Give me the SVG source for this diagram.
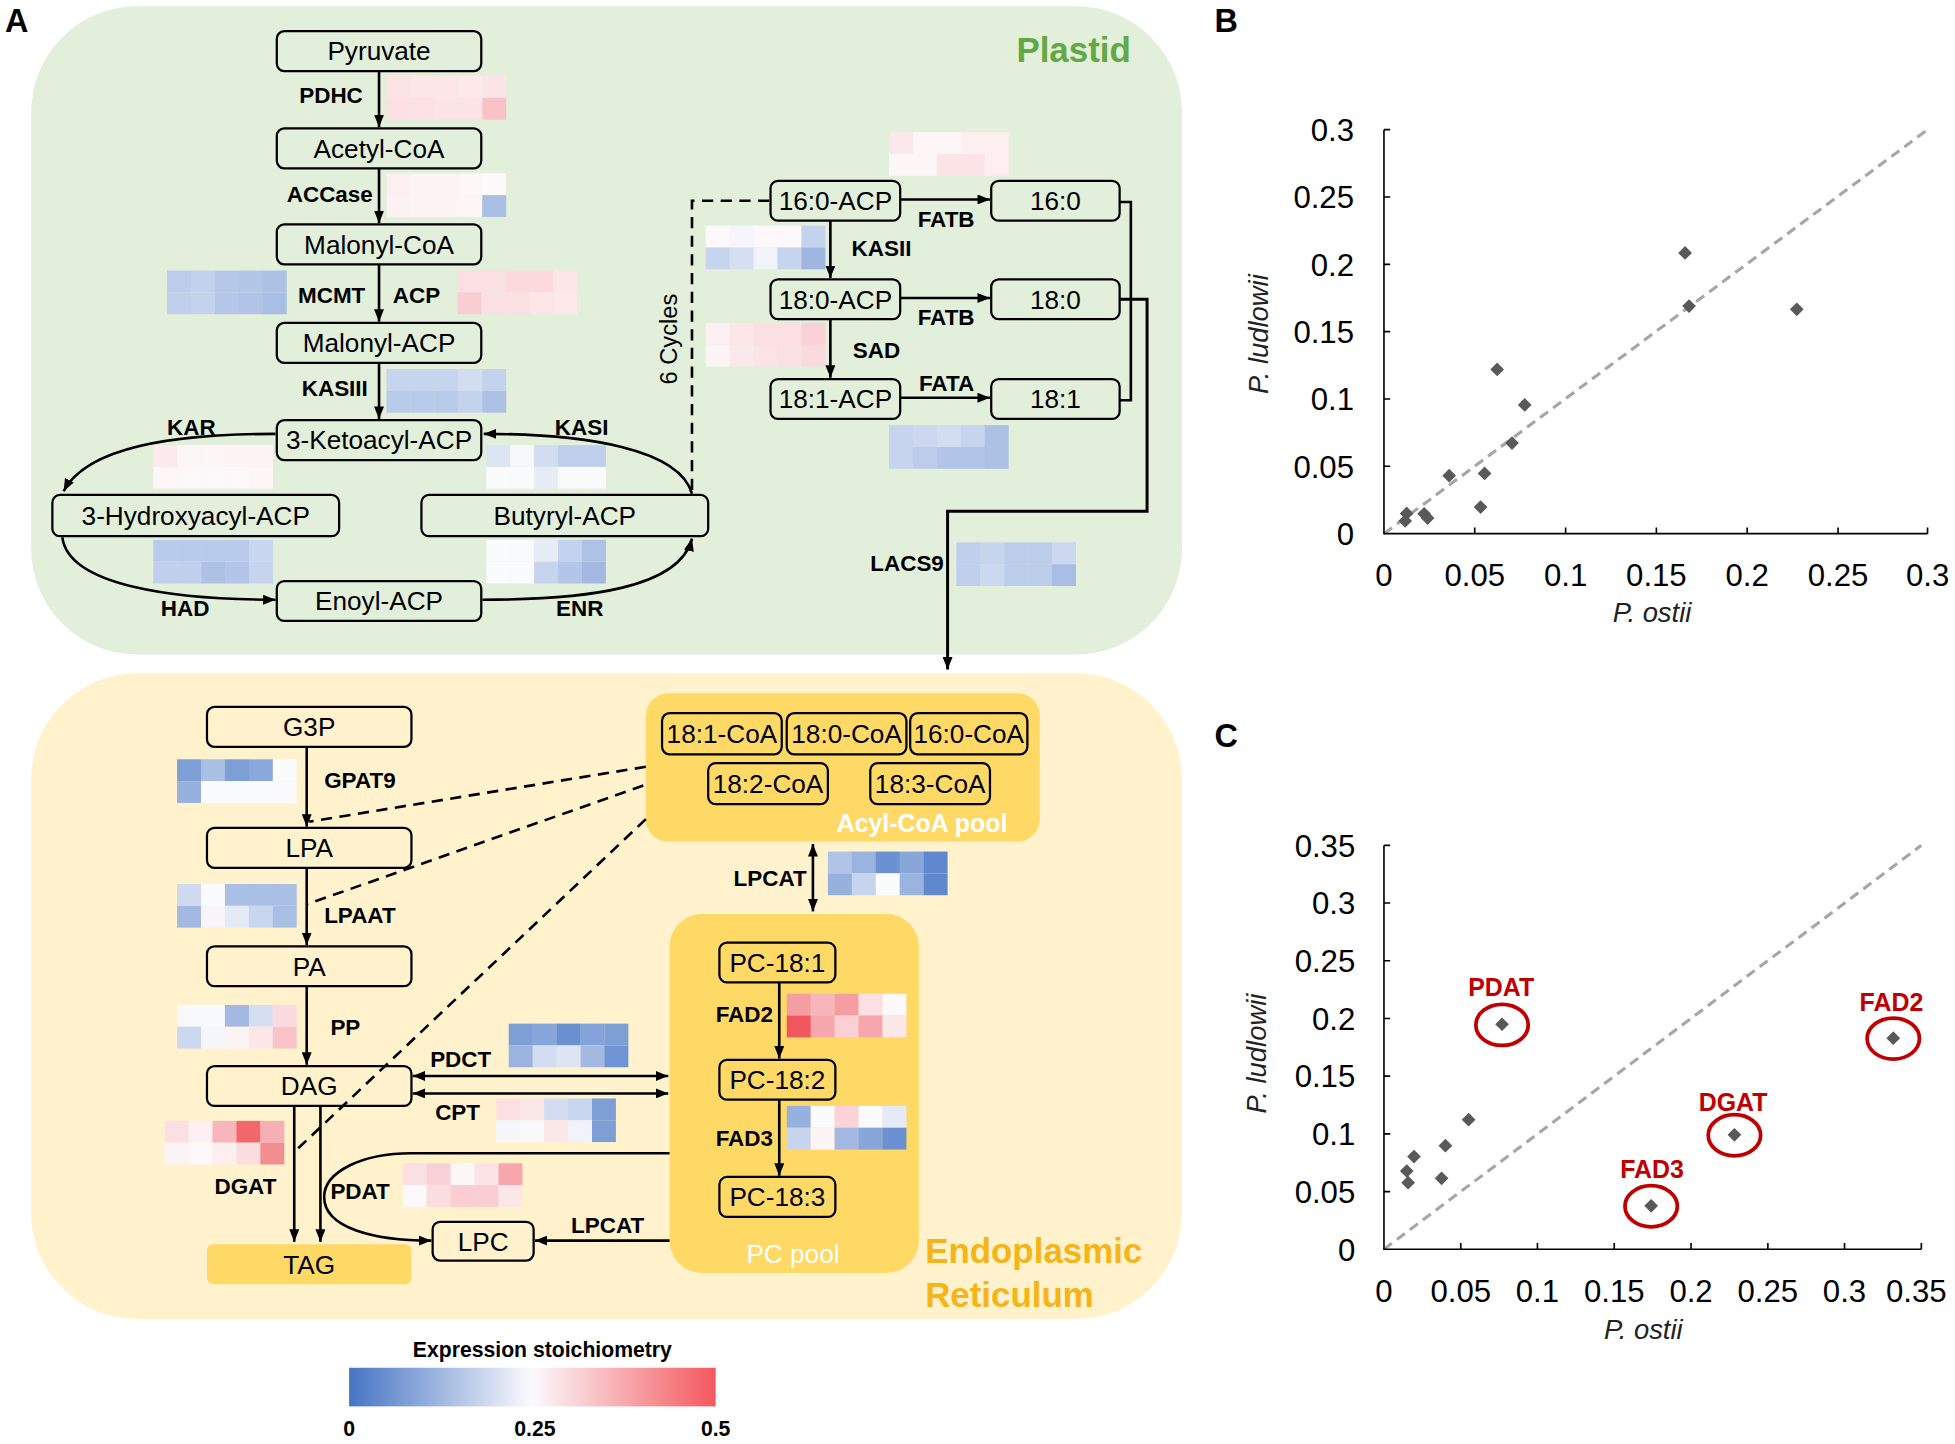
<svg xmlns="http://www.w3.org/2000/svg" width="1955" height="1444" viewBox="0 0 1955 1444">
<defs>
<style>
text{font-family:"Liberation Sans",Arial,sans-serif;fill:#000}
.nb{fill:none;stroke:#000;stroke-width:1.8}
.gb{fill:#ffd966;stroke:#000;stroke-width:1.8}
.nt{font-size:21px;text-anchor:middle}
.lb{font-size:18px;font-weight:bold}
.le{font-size:18px;font-weight:bold;text-anchor:end}
.ln{fill:none;stroke:#000;stroke-width:2.1}
.dl{fill:none;stroke:#000;stroke-width:2.1;stroke-dasharray:9,6}
.ty{font-size:25px;text-anchor:end}
.tx{font-size:25px;text-anchor:middle}
.ax{fill:none;stroke:#000;stroke-width:1.3}
.dg{fill:none;stroke:#a6a6a6;stroke-width:2.5;stroke-dasharray:8,5}
.ttl{font-size:22px;font-style:italic;text-anchor:middle;fill:#222}
.red{font-size:20px;font-weight:bold;text-anchor:middle;fill:#c00000}
.el{fill:none;stroke:#c00000;stroke-width:3}
.pl{font-size:26px;font-weight:bold}
</style>
<marker id="ah" viewBox="0 0 10 8" refX="10" refY="4" markerWidth="10" markerHeight="8" markerUnits="userSpaceOnUse" orient="auto-start-reverse"><path d="M0,0 L10,4 L0,8 z" fill="#000"/></marker>
<path id="dm" d="M0,-5.5 L5.5,0 L0,5.5 L-5.5,0 Z" fill="#595959"/>
<linearGradient id="cb" x1="0" y1="0" x2="1" y2="0"><stop offset="0" stop-color="#4674c4"/><stop offset="0.5" stop-color="#fbfbfd"/><stop offset="1" stop-color="#f4585e"/></linearGradient>
</defs>
<rect width="1955" height="1444" fill="#fff"/>
<g transform="scale(1.24681)">
<g id="plastid">
<rect x="25" y="5" width="923" height="520" rx="85" fill="#e2efda"/>
<text x="907" y="50" text-anchor="end" style="font-size:28px;font-weight:bold;fill:#62a844">Plastid</text>
</g>
<g id="er">
<rect x="25" y="540" width="923" height="518" rx="85" fill="#fff2cc"/>
<text x="742" y="1013" style="font-size:28px;font-weight:bold;fill:#f5b417">Endoplasmic</text>
<text x="742" y="1048" style="font-size:28px;font-weight:bold;fill:#f5b417">Reticulum</text>
</g>
<text x="4" y="26" class="pl">A</text>
<text x="974" y="26" class="pl">B</text>
<text x="974" y="599" class="pl">C</text>

<g id="acyl-coa-pool">
<rect x="518" y="556" width="316" height="119" rx="18" fill="#ffd966"/>
<text x="808" y="667" text-anchor="end" style="font-size:20px;font-weight:bold;fill:#fff">Acyl-CoA pool</text>
</g>
<g id="pc-pool">
<rect x="537" y="733" width="200" height="288" rx="26" fill="#ffd966"/>
<text x="636" y="1013" text-anchor="middle" style="font-size:21px;fill:#fff">PC pool</text>
</g>

<g id="heatmaps">
<g transform="translate(310,61)"><rect x="0" y="0" width="19.4" height="17.5" fill="#fce4e6"/><rect x="19.2" y="0" width="19.4" height="17.5" fill="#fde6e8"/><rect x="38.4" y="0" width="19.4" height="17.5" fill="#fde6e8"/><rect x="57.6" y="0" width="19.4" height="17.5" fill="#fde8ea"/><rect x="76.8" y="0" width="19.2" height="17.5" fill="#fde4e6"/><rect x="0" y="17.5" width="19.4" height="17.5" fill="#fce0e3"/><rect x="19.2" y="17.5" width="19.4" height="17.5" fill="#fce2e4"/><rect x="38.4" y="17.5" width="19.4" height="17.5" fill="#fde4e6"/><rect x="57.6" y="17.5" width="19.4" height="17.5" fill="#fde4e6"/><rect x="76.8" y="17.5" width="19.2" height="17.5" fill="#f9c2c7"/></g>
<g transform="translate(310,139)"><rect x="0" y="0" width="19.4" height="17.5" fill="#fdeef0"/><rect x="19.2" y="0" width="19.4" height="17.5" fill="#fdf4f5"/><rect x="38.4" y="0" width="19.4" height="17.5" fill="#fdf4f5"/><rect x="57.6" y="0" width="19.4" height="17.5" fill="#fdf7f8"/><rect x="76.8" y="0" width="19.2" height="17.5" fill="#fdfafb"/><rect x="0" y="17.5" width="19.4" height="17.5" fill="#fdf2f3"/><rect x="19.2" y="17.5" width="19.4" height="17.5" fill="#fdf4f5"/><rect x="38.4" y="17.5" width="19.4" height="17.5" fill="#fdf4f5"/><rect x="57.6" y="17.5" width="19.4" height="17.5" fill="#fdf6f7"/><rect x="76.8" y="17.5" width="19.2" height="17.5" fill="#a9bfe3"/></g>
<g transform="translate(134,217)"><rect x="0" y="0" width="19.4" height="17.5" fill="#bccdeb"/><rect x="19.2" y="0" width="19.4" height="17.5" fill="#c2d1ed"/><rect x="38.4" y="0" width="19.4" height="17.5" fill="#b6c8e9"/><rect x="57.6" y="0" width="19.4" height="17.5" fill="#b3c6e8"/><rect x="76.8" y="0" width="19.2" height="17.5" fill="#adc1e5"/><rect x="0" y="17.5" width="19.4" height="17.5" fill="#c0cfec"/><rect x="19.2" y="17.5" width="19.4" height="17.5" fill="#c3d2ed"/><rect x="38.4" y="17.5" width="19.4" height="17.5" fill="#b5c7e9"/><rect x="57.6" y="17.5" width="19.4" height="17.5" fill="#b1c4e8"/><rect x="76.8" y="17.5" width="19.2" height="17.5" fill="#a9bee4"/></g>
<g transform="translate(367,217)"><rect x="0" y="0" width="19.4" height="17.5" fill="#fbdfe2"/><rect x="19.2" y="0" width="19.4" height="17.5" fill="#fbe0e3"/><rect x="38.4" y="0" width="19.4" height="17.5" fill="#fbd9dd"/><rect x="57.6" y="0" width="19.4" height="17.5" fill="#fbd9dd"/><rect x="76.8" y="0" width="19.2" height="17.5" fill="#fde6e8"/><rect x="0" y="17.5" width="19.4" height="17.5" fill="#f9cdd1"/><rect x="19.2" y="17.5" width="19.4" height="17.5" fill="#fbe0e3"/><rect x="38.4" y="17.5" width="19.4" height="17.5" fill="#fbe0e3"/><rect x="57.6" y="17.5" width="19.4" height="17.5" fill="#fde6e8"/><rect x="76.8" y="17.5" width="19.2" height="17.5" fill="#fde8ea"/></g>
<g transform="translate(310,296)"><rect x="0" y="0" width="19.4" height="17.5" fill="#c6d4ee"/><rect x="19.2" y="0" width="19.4" height="17.5" fill="#c6d4ee"/><rect x="38.4" y="0" width="19.4" height="17.5" fill="#c6d4ee"/><rect x="57.6" y="0" width="19.4" height="17.5" fill="#d3ddf1"/><rect x="76.8" y="0" width="19.2" height="17.5" fill="#c3d2ed"/><rect x="0" y="17.5" width="19.4" height="17.5" fill="#b9cbea"/><rect x="19.2" y="17.5" width="19.4" height="17.5" fill="#b9cbea"/><rect x="38.4" y="17.5" width="19.4" height="17.5" fill="#b9cbea"/><rect x="57.6" y="17.5" width="19.4" height="17.5" fill="#c3d2ed"/><rect x="76.8" y="17.5" width="19.2" height="17.5" fill="#adc1e5"/></g>
<g transform="translate(123,357)"><rect x="0" y="0" width="19.4" height="17.5" fill="#fdeaec"/><rect x="19.2" y="0" width="19.4" height="17.5" fill="#fdf6f7"/><rect x="38.4" y="0" width="19.4" height="17.5" fill="#fdf6f7"/><rect x="57.6" y="0" width="19.4" height="17.5" fill="#fdf4f5"/><rect x="76.8" y="0" width="19.2" height="17.5" fill="#fdf4f5"/><rect x="0" y="17.5" width="19.4" height="17.5" fill="#fdf7f8"/><rect x="19.2" y="17.5" width="19.4" height="17.5" fill="#fdf8f9"/><rect x="38.4" y="17.5" width="19.4" height="17.5" fill="#fdf8f9"/><rect x="57.6" y="17.5" width="19.4" height="17.5" fill="#fdf8f9"/><rect x="76.8" y="17.5" width="19.2" height="17.5" fill="#fdf6f7"/></g>
<g transform="translate(390,357)"><rect x="0" y="0" width="19.4" height="17.5" fill="#dde5f4"/><rect x="19.2" y="0" width="19.4" height="17.5" fill="#f7f8fc"/><rect x="38.4" y="0" width="19.4" height="17.5" fill="#d3ddf1"/><rect x="57.6" y="0" width="19.4" height="17.5" fill="#bfcfec"/><rect x="76.8" y="0" width="19.2" height="17.5" fill="#bfcfec"/><rect x="0" y="17.5" width="19.4" height="17.5" fill="#fafbfd"/><rect x="19.2" y="17.5" width="19.4" height="17.5" fill="#fafbfd"/><rect x="38.4" y="17.5" width="19.4" height="17.5" fill="#e7edf7"/><rect x="57.6" y="17.5" width="19.4" height="17.5" fill="#fafbfd"/><rect x="76.8" y="17.5" width="19.2" height="17.5" fill="#fafbfd"/></g>
<g transform="translate(123,433)"><rect x="0" y="0" width="19.4" height="17.5" fill="#b9cbea"/><rect x="19.2" y="0" width="19.4" height="17.5" fill="#b9cbea"/><rect x="38.4" y="0" width="19.4" height="17.5" fill="#b9cbea"/><rect x="57.6" y="0" width="19.4" height="17.5" fill="#b9cbea"/><rect x="76.8" y="0" width="19.2" height="17.5" fill="#c9d6ef"/><rect x="0" y="17.5" width="19.4" height="17.5" fill="#c0cfec"/><rect x="19.2" y="17.5" width="19.4" height="17.5" fill="#c0cfec"/><rect x="38.4" y="17.5" width="19.4" height="17.5" fill="#adc1e5"/><rect x="57.6" y="17.5" width="19.4" height="17.5" fill="#b3c5e8"/><rect x="76.8" y="17.5" width="19.2" height="17.5" fill="#c6d4ee"/></g>
<g transform="translate(390,433)"><rect x="0" y="0" width="19.4" height="17.5" fill="#fafbfd"/><rect x="19.2" y="0" width="19.4" height="17.5" fill="#fafbfd"/><rect x="38.4" y="0" width="19.4" height="17.5" fill="#e7edf7"/><rect x="57.6" y="0" width="19.4" height="17.5" fill="#c3d2ed"/><rect x="76.8" y="0" width="19.2" height="17.5" fill="#aec2e5"/><rect x="0" y="17.5" width="19.4" height="17.5" fill="#fafbfd"/><rect x="19.2" y="17.5" width="19.4" height="17.5" fill="#fafbfd"/><rect x="38.4" y="17.5" width="19.4" height="17.5" fill="#c6d4ee"/><rect x="57.6" y="17.5" width="19.4" height="17.5" fill="#b3c5e8"/><rect x="76.8" y="17.5" width="19.2" height="17.5" fill="#a3b9e2"/></g>
<g transform="translate(713,106)"><rect x="0" y="0" width="19.4" height="17.5" fill="#fbe8ea"/><rect x="19.2" y="0" width="19.4" height="17.5" fill="#fdf6f7"/><rect x="38.4" y="0" width="19.4" height="17.5" fill="#fdf6f7"/><rect x="57.6" y="0" width="19.4" height="17.5" fill="#fdeef0"/><rect x="76.8" y="0" width="19.2" height="17.5" fill="#fdeef0"/><rect x="0" y="17.5" width="19.4" height="17.5" fill="#fdf6f7"/><rect x="19.2" y="17.5" width="19.4" height="17.5" fill="#fdf6f7"/><rect x="38.4" y="17.5" width="19.4" height="17.5" fill="#fbe3e6"/><rect x="57.6" y="17.5" width="19.4" height="17.5" fill="#fbe3e6"/><rect x="76.8" y="17.5" width="19.2" height="17.5" fill="#fdeef0"/></g>
<g transform="translate(566,181)"><rect x="0" y="0" width="19.4" height="17.5" fill="#fdf8fa"/><rect x="19.2" y="0" width="19.4" height="17.5" fill="#f5f7fc"/><rect x="38.4" y="0" width="19.4" height="17.5" fill="#fdf9fa"/><rect x="57.6" y="0" width="19.4" height="17.5" fill="#fdf9fa"/><rect x="76.8" y="0" width="19.2" height="17.5" fill="#c3d2ed"/><rect x="0" y="17.5" width="19.4" height="17.5" fill="#c6d4ee"/><rect x="19.2" y="17.5" width="19.4" height="17.5" fill="#d6dff2"/><rect x="38.4" y="17.5" width="19.4" height="17.5" fill="#f0f3fa"/><rect x="57.6" y="17.5" width="19.4" height="17.5" fill="#c6d4ee"/><rect x="76.8" y="17.5" width="19.2" height="17.5" fill="#9fb6e0"/></g>
<g transform="translate(566,259)"><rect x="0" y="0" width="19.4" height="17.5" fill="#fdf0f2"/><rect x="19.2" y="0" width="19.4" height="17.5" fill="#fbe6e8"/><rect x="38.4" y="0" width="19.4" height="17.5" fill="#fbe0e3"/><rect x="57.6" y="0" width="19.4" height="17.5" fill="#fbdfe2"/><rect x="76.8" y="0" width="19.2" height="17.5" fill="#f9d0d4"/><rect x="0" y="17.5" width="19.4" height="17.5" fill="#fdf4f5"/><rect x="19.2" y="17.5" width="19.4" height="17.5" fill="#fbe8ea"/><rect x="38.4" y="17.5" width="19.4" height="17.5" fill="#fbe3e6"/><rect x="57.6" y="17.5" width="19.4" height="17.5" fill="#fbe0e3"/><rect x="76.8" y="17.5" width="19.2" height="17.5" fill="#fbdade"/></g>
<g transform="translate(713,341)"><rect x="0" y="0" width="19.4" height="17.5" fill="#c6d4ee"/><rect x="19.2" y="0" width="19.4" height="17.5" fill="#ccd8ef"/><rect x="38.4" y="0" width="19.4" height="17.5" fill="#d3ddf1"/><rect x="57.6" y="0" width="19.4" height="17.5" fill="#c6d4ee"/><rect x="76.8" y="0" width="19.2" height="17.5" fill="#adc1e5"/><rect x="0" y="17.5" width="19.4" height="17.5" fill="#c6d4ee"/><rect x="19.2" y="17.5" width="19.4" height="17.5" fill="#bccdeb"/><rect x="38.4" y="17.5" width="19.4" height="17.5" fill="#b3c5e8"/><rect x="57.6" y="17.5" width="19.4" height="17.5" fill="#b3c5e8"/><rect x="76.8" y="17.5" width="19.2" height="17.5" fill="#adc1e5"/></g>
<g transform="translate(767,435)"><rect x="0" y="0" width="19.4" height="17.5" fill="#c0cfec"/><rect x="19.2" y="0" width="19.4" height="17.5" fill="#c6d4ee"/><rect x="38.4" y="0" width="19.4" height="17.5" fill="#bccdeb"/><rect x="57.6" y="0" width="19.4" height="17.5" fill="#bccdeb"/><rect x="76.8" y="0" width="19.2" height="17.5" fill="#ccd8ef"/><rect x="0" y="17.5" width="19.4" height="17.5" fill="#c0cfec"/><rect x="19.2" y="17.5" width="19.4" height="17.5" fill="#ccd8ef"/><rect x="38.4" y="17.5" width="19.4" height="17.5" fill="#bccdeb"/><rect x="57.6" y="17.5" width="19.4" height="17.5" fill="#bccdeb"/><rect x="76.8" y="17.5" width="19.2" height="17.5" fill="#a9bee4"/></g>
<g transform="translate(142,609)"><rect x="0" y="0" width="19.4" height="17.5" fill="#7e9fd6"/><rect x="19.2" y="0" width="19.4" height="17.5" fill="#a9bfe4"/><rect x="38.4" y="0" width="19.4" height="17.5" fill="#7e9fd6"/><rect x="57.6" y="0" width="19.4" height="17.5" fill="#8aa8db"/><rect x="76.8" y="0" width="19.2" height="17.5" fill="#fafbfd"/><rect x="0" y="17.5" width="19.4" height="17.5" fill="#97b1df"/><rect x="19.2" y="17.5" width="19.4" height="17.5" fill="#fafbfd"/><rect x="38.4" y="17.5" width="19.4" height="17.5" fill="#fafbfd"/><rect x="57.6" y="17.5" width="19.4" height="17.5" fill="#fafbfd"/><rect x="76.8" y="17.5" width="19.2" height="17.5" fill="#fbfafc"/></g>
<g transform="translate(142,709)"><rect x="0" y="0" width="19.4" height="17.5" fill="#d0dbf1"/><rect x="19.2" y="0" width="19.4" height="17.5" fill="#fafbfd"/><rect x="38.4" y="0" width="19.4" height="17.5" fill="#a9bfe4"/><rect x="57.6" y="0" width="19.4" height="17.5" fill="#a9bfe4"/><rect x="76.8" y="0" width="19.2" height="17.5" fill="#a9bfe4"/><rect x="0" y="17.5" width="19.4" height="17.5" fill="#a3b9e2"/><rect x="19.2" y="17.5" width="19.4" height="17.5" fill="#f7f5f9"/><rect x="38.4" y="17.5" width="19.4" height="17.5" fill="#e4eaf6"/><rect x="57.6" y="17.5" width="19.4" height="17.5" fill="#c9d6ef"/><rect x="76.8" y="17.5" width="19.2" height="17.5" fill="#a9bfe4"/></g>
<g transform="translate(142,806)"><rect x="0" y="0" width="19.4" height="17.5" fill="#f8f9fd"/><rect x="19.2" y="0" width="19.4" height="17.5" fill="#f8f9fd"/><rect x="38.4" y="0" width="19.4" height="17.5" fill="#a3b9e2"/><rect x="57.6" y="0" width="19.4" height="17.5" fill="#d6dff2"/><rect x="76.8" y="0" width="19.2" height="17.5" fill="#fbdadf"/><rect x="0" y="17.5" width="19.4" height="17.5" fill="#ccd8ef"/><rect x="19.2" y="17.5" width="19.4" height="17.5" fill="#f5f7fc"/><rect x="38.4" y="17.5" width="19.4" height="17.5" fill="#fdf4f5"/><rect x="57.6" y="17.5" width="19.4" height="17.5" fill="#fbe6e8"/><rect x="76.8" y="17.5" width="19.2" height="17.5" fill="#f8c4ca"/></g>
<g transform="translate(132,899)"><rect x="0" y="0" width="19.4" height="17.5" fill="#fbdfe2"/><rect x="19.2" y="0" width="19.4" height="17.5" fill="#fdf0f2"/><rect x="38.4" y="0" width="19.4" height="17.5" fill="#f8b6bc"/><rect x="57.6" y="0" width="19.4" height="17.5" fill="#f2676c"/><rect x="76.8" y="0" width="19.2" height="17.5" fill="#f6b0b5"/><rect x="0" y="17.5" width="19.4" height="17.5" fill="#fdf4f5"/><rect x="19.2" y="17.5" width="19.4" height="17.5" fill="#fdf8f9"/><rect x="38.4" y="17.5" width="19.4" height="17.5" fill="#fdeef0"/><rect x="57.6" y="17.5" width="19.4" height="17.5" fill="#fbdde0"/><rect x="76.8" y="17.5" width="19.2" height="17.5" fill="#f28d92"/></g>
<g transform="translate(323,933)"><rect x="0" y="0" width="19.4" height="17.5" fill="#fbe0e3"/><rect x="19.2" y="0" width="19.4" height="17.5" fill="#f9d0d4"/><rect x="38.4" y="0" width="19.4" height="17.5" fill="#fdf6f7"/><rect x="57.6" y="0" width="19.4" height="17.5" fill="#fbe3e6"/><rect x="76.8" y="0" width="19.2" height="17.5" fill="#f7a6ac"/><rect x="0" y="17.5" width="19.4" height="17.5" fill="#fdf8f9"/><rect x="19.2" y="17.5" width="19.4" height="17.5" fill="#fbdde0"/><rect x="38.4" y="17.5" width="19.4" height="17.5" fill="#f9cdd1"/><rect x="57.6" y="17.5" width="19.4" height="17.5" fill="#f9cdd1"/><rect x="76.8" y="17.5" width="19.2" height="17.5" fill="#fbe6e8"/></g>
<g transform="translate(408,821)"><rect x="0" y="0" width="19.4" height="17.5" fill="#7e9fd6"/><rect x="19.2" y="0" width="19.4" height="17.5" fill="#87a6da"/><rect x="38.4" y="0" width="19.4" height="17.5" fill="#6b91d2"/><rect x="57.6" y="0" width="19.4" height="17.5" fill="#84a4d9"/><rect x="76.8" y="0" width="19.2" height="17.5" fill="#7e9fd6"/><rect x="0" y="17.5" width="19.4" height="17.5" fill="#9ab3df"/><rect x="19.2" y="17.5" width="19.4" height="17.5" fill="#d3ddf1"/><rect x="38.4" y="17.5" width="19.4" height="17.5" fill="#dde5f4"/><rect x="57.6" y="17.5" width="19.4" height="17.5" fill="#a3b9e2"/><rect x="76.8" y="17.5" width="19.2" height="17.5" fill="#6f94d3"/></g>
<g transform="translate(398,881)"><rect x="0" y="0" width="19.4" height="17.5" fill="#fbdfe2"/><rect x="19.2" y="0" width="19.4" height="17.5" fill="#fbe6e8"/><rect x="38.4" y="0" width="19.4" height="17.5" fill="#d3ddf1"/><rect x="57.6" y="0" width="19.4" height="17.5" fill="#c9d6ef"/><rect x="76.8" y="0" width="19.2" height="17.5" fill="#7e9fd6"/><rect x="0" y="17.5" width="19.4" height="17.5" fill="#f5f7fc"/><rect x="19.2" y="17.5" width="19.4" height="17.5" fill="#f8f9fd"/><rect x="38.4" y="17.5" width="19.4" height="17.5" fill="#fbe6e8"/><rect x="57.6" y="17.5" width="19.4" height="17.5" fill="#f0f3fa"/><rect x="76.8" y="17.5" width="19.2" height="17.5" fill="#7e9fd6"/></g>
<g transform="translate(664,683)"><rect x="0" y="0" width="19.4" height="17.5" fill="#b0c4e7"/><rect x="19.2" y="0" width="19.4" height="17.5" fill="#9ab3df"/><rect x="38.4" y="0" width="19.4" height="17.5" fill="#6b91d2"/><rect x="57.6" y="0" width="19.4" height="17.5" fill="#87a6da"/><rect x="76.8" y="0" width="19.2" height="17.5" fill="#5f88cf"/><rect x="0" y="17.5" width="19.4" height="17.5" fill="#97b1df"/><rect x="19.2" y="17.5" width="19.4" height="17.5" fill="#c6d4ee"/><rect x="38.4" y="17.5" width="19.4" height="17.5" fill="#fafbfd"/><rect x="57.6" y="17.5" width="19.4" height="17.5" fill="#9ab3df"/><rect x="76.8" y="17.5" width="19.2" height="17.5" fill="#5f88cf"/></g>
<g transform="translate(631,797)"><rect x="0" y="0" width="19.4" height="17.5" fill="#f49ea3"/><rect x="19.2" y="0" width="19.4" height="17.5" fill="#f7b6bb"/><rect x="38.4" y="0" width="19.4" height="17.5" fill="#f49ea3"/><rect x="57.6" y="0" width="19.4" height="17.5" fill="#fbe0e3"/><rect x="76.8" y="0" width="19.2" height="17.5" fill="#fdf8f9"/><rect x="0" y="17.5" width="19.4" height="17.5" fill="#f0585d"/><rect x="19.2" y="17.5" width="19.4" height="17.5" fill="#f6a7ad"/><rect x="38.4" y="17.5" width="19.4" height="17.5" fill="#fad0d4"/><rect x="57.6" y="17.5" width="19.4" height="17.5" fill="#f6a7ad"/><rect x="76.8" y="17.5" width="19.2" height="17.5" fill="#fbe6e8"/></g>
<g transform="translate(631,887)"><rect x="0" y="0" width="19.4" height="17.5" fill="#97b1df"/><rect x="19.2" y="0" width="19.4" height="17.5" fill="#fafbfd"/><rect x="38.4" y="0" width="19.4" height="17.5" fill="#f9d3d7"/><rect x="57.6" y="0" width="19.4" height="17.5" fill="#fafbfd"/><rect x="76.8" y="0" width="19.2" height="17.5" fill="#e4eaf6"/><rect x="0" y="17.5" width="19.4" height="17.5" fill="#c6d4ee"/><rect x="19.2" y="17.5" width="19.4" height="17.5" fill="#fdf4f5"/><rect x="38.4" y="17.5" width="19.4" height="17.5" fill="#a3b9e2"/><rect x="57.6" y="17.5" width="19.4" height="17.5" fill="#87a6da"/><rect x="76.8" y="17.5" width="19.2" height="17.5" fill="#6b91d2"/></g>
</g>

<g id="connectors">
<path class="ln" marker-end="url(#ah)" d="M304,57 V102"/>
<path class="ln" marker-end="url(#ah)" d="M304,135 V179"/>
<path class="ln" marker-end="url(#ah)" d="M304,212 V258"/>
<path class="ln" marker-end="url(#ah)" d="M304,291 V336"/>
<path class="ln" marker-end="url(#ah)" d="M221,348 C140,348 70,358 51,394"/>
<path class="ln" marker-end="url(#ah)" d="M50,431 C55,470 140,481 221,481"/>
<path class="ln" marker-end="url(#ah)" d="M387,481 C470,481 545,472 555,432"/>
<path class="ln" marker-end="url(#ah)" d="M555,396 C545,360 470,348 388,348"/>
<path class="dl" d="M617,161 H555 V396"/>
<path class="ln" marker-end="url(#ah)" d="M722,160 H794"/>
<path class="ln" marker-end="url(#ah)" d="M722,239 H794"/>
<path class="ln" marker-end="url(#ah)" d="M722,319 H794"/>
<path class="ln" marker-end="url(#ah)" d="M666,177 V223"/>
<path class="ln" marker-end="url(#ah)" d="M666,256 V303"/>
<path class="ln" d="M898,162 H907 V321 H898"/>
<path class="ln" style="stroke-width:2.4" marker-end="url(#ah)" d="M898,240 H920 V410 H760 V537"/>
<path class="ln" marker-end="url(#ah)" d="M246,599 V663"/>
<path class="ln" marker-end="url(#ah)" d="M246,696 V758"/>
<path class="ln" marker-end="url(#ah)" d="M246,791 V854"/>
<path class="ln" marker-end="url(#ah)" d="M236,887 V996"/>
<path class="ln" marker-end="url(#ah)" d="M257,887 V996"/>
<path class="dl" d="M518,615 L248,659"/>
<path class="dl" d="M516,630 L247,725"/>
<path class="dl" d="M518,657 L237,923"/>
<path class="ln" marker-start="url(#ah)" marker-end="url(#ah)" d="M652,677 V731"/>
<path class="ln" marker-start="url(#ah)" marker-end="url(#ah)" d="M331,863 H536"/>
<path class="ln" marker-start="url(#ah)" marker-end="url(#ah)" d="M331,877 H536"/>
<path class="ln" marker-end="url(#ah)" d="M537,925 H330 C290,925 260,940 260,960 C260,985 300,995 346,995"/>
<path class="ln" marker-end="url(#ah)" d="M537,995 H429"/>
<path class="ln" marker-end="url(#ah)" d="M625,788 V849"/>
<path class="ln" marker-end="url(#ah)" d="M625,882 V943"/>
</g>

<g id="n-pyruvate"><rect class="nb" x="222" y="25" width="164" height="32" rx="6"/><text class="nt" x="304" y="48.5">Pyruvate</text></g>
<g id="n-acetylcoa"><rect class="nb" x="222" y="103" width="164" height="32" rx="6"/><text class="nt" x="304" y="126.5">Acetyl-CoA</text></g>
<g id="n-malonylcoa"><rect class="nb" x="222" y="180" width="164" height="32" rx="6"/><text class="nt" x="304" y="203.5">Malonyl-CoA</text></g>
<g id="n-malonylacp"><rect class="nb" x="222" y="259" width="164" height="32" rx="6"/><text class="nt" x="304" y="282.5">Malonyl-ACP</text></g>
<g id="n-ketoacyl"><rect class="nb" x="222" y="337" width="164" height="32" rx="6"/><text class="nt" x="304" y="360.5">3-Ketoacyl-ACP</text></g>
<g id="n-hydroxyacyl"><rect class="nb" x="42" y="397" width="230" height="33" rx="6"/><text class="nt" x="157" y="421">3-Hydroxyacyl-ACP</text></g>
<g id="n-butyryl"><rect class="nb" x="338" y="397" width="230" height="33" rx="6"/><text class="nt" x="453" y="421">Butyryl-ACP</text></g>
<g id="n-enoyl"><rect class="nb" x="222" y="466" width="164" height="32" rx="6"/><text class="nt" x="304" y="489.5">Enoyl-ACP</text></g>
<g id="n-160acp"><rect class="nb" x="618" y="145" width="104" height="32" rx="6"/><text class="nt" x="670" y="168.5">16:0-ACP</text></g>
<g id="n-160"><rect class="nb" x="795" y="145" width="103" height="32" rx="6"/><text class="nt" x="846.5" y="168.5">16:0</text></g>
<g id="n-180acp"><rect class="nb" x="618" y="224" width="104" height="32" rx="6"/><text class="nt" x="670" y="247.5">18:0-ACP</text></g>
<g id="n-180"><rect class="nb" x="795" y="224" width="103" height="32" rx="6"/><text class="nt" x="846.5" y="247.5">18:0</text></g>
<g id="n-181acp"><rect class="nb" x="618" y="304" width="104" height="32" rx="6"/><text class="nt" x="670" y="327.5">18:1-ACP</text></g>
<g id="n-181"><rect class="nb" x="795" y="304" width="103" height="32" rx="6"/><text class="nt" x="846.5" y="327.5">18:1</text></g>

<g id="n-g3p"><rect class="nb" x="166" y="567" width="164" height="32" rx="6"/><text class="nt" x="248" y="590.5">G3P</text></g>
<g id="n-lpa"><rect class="nb" x="166" y="664" width="164" height="32" rx="6"/><text class="nt" x="248" y="687.5">LPA</text></g>
<g id="n-pa"><rect class="nb" x="166" y="759" width="164" height="32" rx="6"/><text class="nt" x="248" y="782.5">PA</text></g>
<g id="n-dag"><rect class="nb" x="166" y="855" width="164" height="32" rx="6"/><text class="nt" x="248" y="878.5">DAG</text></g>
<g id="n-tag"><rect x="166" y="998" width="164" height="32" rx="5" fill="#ffd966"/><text class="nt" x="248" y="1021.5">TAG</text></g>
<g id="n-lpc"><rect class="nb" x="347" y="980" width="81" height="31" rx="6"/><text class="nt" x="387.5" y="1003">LPC</text></g>
<g id="n-181coa"><rect class="gb" x="531" y="572" width="96" height="33" rx="6"/><text class="nt" x="579" y="596">18:1-CoA</text></g>
<g id="n-180coa"><rect class="gb" x="631" y="572" width="96" height="33" rx="6"/><text class="nt" x="679" y="596">18:0-CoA</text></g>
<g id="n-160coa"><rect class="gb" x="730" y="572" width="94" height="33" rx="6"/><text class="nt" x="777" y="596">16:0-CoA</text></g>
<g id="n-182coa"><rect class="gb" x="568" y="612" width="96" height="33" rx="6"/><text class="nt" x="616" y="636">18:2-CoA</text></g>
<g id="n-183coa"><rect class="gb" x="698" y="612" width="96" height="33" rx="6"/><text class="nt" x="746" y="636">18:3-CoA</text></g>
<g id="n-pc181"><rect class="gb" x="577" y="756" width="93" height="32" rx="6"/><text class="nt" x="623.5" y="779.5">PC-18:1</text></g>
<g id="n-pc182"><rect class="gb" x="577" y="850" width="93" height="32" rx="6"/><text class="nt" x="623.5" y="873.5">PC-18:2</text></g>
<g id="n-pc183"><rect class="gb" x="577" y="944" width="93" height="32" rx="6"/><text class="nt" x="623.5" y="967.5">PC-18:3</text></g>

<g id="labels">
<text class="le" x="291" y="83">PDHC</text>
<text class="le" x="299" y="162">ACCase</text>
<text class="le" x="293" y="243">MCMT</text>
<text class="lb" x="315" y="243">ACP</text>
<text class="le" x="295" y="318">KASIII</text>
<text class="lb" x="134" y="349">KAR</text>
<text class="lb" x="445" y="349">KASI</text>
<text class="lb" x="129" y="494">HAD</text>
<text class="lb" x="446" y="494">ENR</text>
<text class="lb" x="736" y="182">FATB</text>
<text class="lb" x="683" y="205">KASII</text>
<text class="lb" x="736" y="261">FATB</text>
<text class="lb" x="684" y="287">SAD</text>
<text class="lb" x="737" y="314">FATA</text>
<text class="le" x="757" y="458">LACS9</text>
<text x="543" y="272" transform="rotate(-90 543 272)" text-anchor="middle" style="font-size:19px">6 Cycles</text>
<text class="lb" x="260" y="632">GPAT9</text>
<text class="lb" x="260" y="740">LPAAT</text>
<text class="lb" x="265" y="830">PP</text>
<text class="lb" x="345" y="856">PDCT</text>
<text class="lb" x="349" y="898">CPT</text>
<text class="lb" x="172" y="958">DGAT</text>
<text class="lb" x="265" y="962">PDAT</text>
<text class="lb" x="458" y="989">LPCAT</text>
<text class="le" x="647" y="711">LPCAT</text>
<text class="le" x="620" y="820">FAD2</text>
<text class="le" x="620" y="919">FAD3</text>
</g>

<g id="colorbar">
<text x="435" y="1088" text-anchor="middle" style="font-size:17px;font-weight:bold">Expression stoichiometry</text>
<rect x="280" y="1097" width="294" height="31" fill="url(#cb)"/>
<text x="280" y="1152" text-anchor="middle" style="font-size:17px;font-weight:bold">0</text>
<text x="429" y="1152" text-anchor="middle" style="font-size:17px;font-weight:bold">0.25</text>
<text x="574" y="1152" text-anchor="middle" style="font-size:17px;font-weight:bold">0.5</text>
</g>

<g id="plot-b">
<line class="dg" x1="1110" y1="428" x2="1546" y2="104"/>
<path class="ax" d="M1110,104 V428 H1546"/>
<path class="ax" d="M1110,104 h5 M1110,158 h5 M1110,212 h5 M1110,266 h5 M1110,320 h5 M1110,374 h5 M1182.8,428 v-5 M1255.7,428 v-5 M1328.5,428 v-5 M1401.3,428 v-5 M1474.2,428 v-5 M1546,428 v-5"/>
<text class="ty" x="1086" y="113">0.3</text>
<text class="ty" x="1086" y="167">0.25</text>
<text class="ty" x="1086" y="221">0.2</text>
<text class="ty" x="1086" y="275">0.15</text>
<text class="ty" x="1086" y="329">0.1</text>
<text class="ty" x="1086" y="383">0.05</text>
<text class="ty" x="1086" y="437">0</text>
<text class="tx" x="1110" y="470">0</text>
<text class="tx" x="1182.8" y="470">0.05</text>
<text class="tx" x="1255.7" y="470">0.1</text>
<text class="tx" x="1328.5" y="470">0.15</text>
<text class="tx" x="1401.3" y="470">0.2</text>
<text class="tx" x="1474.2" y="470">0.25</text>
<text class="tx" x="1546" y="470">0.3</text>
<text class="ttl" x="1325" y="499">P. ostii</text>
<text class="ttl" x="1017" y="268" transform="rotate(-90 1017 268)">P. ludlowii</text>
<use href="#dm" x="1351.5" y="202.9"/>
<use href="#dm" x="1354.7" y="245.5"/>
<use href="#dm" x="1441.1" y="248.1"/>
<use href="#dm" x="1200.8" y="296.3"/>
<use href="#dm" x="1222.9" y="324.8"/>
<use href="#dm" x="1212.7" y="355.4"/>
<use href="#dm" x="1162.3" y="381.5"/>
<use href="#dm" x="1190.7" y="379.7"/>
<use href="#dm" x="1187.5" y="406.7"/>
<use href="#dm" x="1128.2" y="411.8"/>
<use href="#dm" x="1127" y="417.8"/>
<use href="#dm" x="1142.2" y="412.1"/>
<use href="#dm" x="1145" y="415.5"/>
</g>

<g id="plot-c">
<line class="dg" x1="1110" y1="1002" x2="1541" y2="678"/>
<path class="ax" d="M1110,678 V1002 H1541"/>
<path class="ax" d="M1110,678 h5 M1110,724.3 h5 M1110,770.6 h5 M1110,816.9 h5 M1110,863.1 h5 M1110,909.4 h5 M1110,955.7 h5 M1171.6,1002 v-5 M1233.1,1002 v-5 M1294.7,1002 v-5 M1356.3,1002 v-5 M1417.9,1002 v-5 M1479.4,1002 v-5 M1541,1002 v-5"/>
<text class="ty" x="1087" y="687">0.35</text>
<text class="ty" x="1087" y="733.3">0.3</text>
<text class="ty" x="1087" y="779.6">0.25</text>
<text class="ty" x="1087" y="825.9">0.2</text>
<text class="ty" x="1087" y="872.1">0.15</text>
<text class="ty" x="1087" y="918.4">0.1</text>
<text class="ty" x="1087" y="964.7">0.05</text>
<text class="ty" x="1087" y="1011">0</text>
<text class="tx" x="1110" y="1044">0</text>
<text class="tx" x="1171.6" y="1044">0.05</text>
<text class="tx" x="1233.1" y="1044">0.1</text>
<text class="tx" x="1294.7" y="1044">0.15</text>
<text class="tx" x="1356.3" y="1044">0.2</text>
<text class="tx" x="1417.9" y="1044">0.25</text>
<text class="tx" x="1479.4" y="1044">0.3</text>
<text class="tx" x="1537" y="1044">0.35</text>
<text class="ttl" x="1318" y="1074">P. ostii</text>
<text class="ttl" x="1015" y="845" transform="rotate(-90 1015 845)">P. ludlowii</text>
<use href="#dm" x="1177.9" y="898"/>
<use href="#dm" x="1159.3" y="918.9"/>
<use href="#dm" x="1134.1" y="927.6"/>
<use href="#dm" x="1128.3" y="939.2"/>
<use href="#dm" x="1129.4" y="948.6"/>
<use href="#dm" x="1156.2" y="945.1"/>
<use href="#dm" x="1204.7" y="821.5"/>
<use href="#dm" x="1518.5" y="832.7"/>
<use href="#dm" x="1391.1" y="910.2"/>
<use href="#dm" x="1324.3" y="967.1"/>
<ellipse class="el" cx="1204.7" cy="822" rx="21" ry="16.5"/>
<ellipse class="el" cx="1518.5" cy="833" rx="21" ry="16.5"/>
<ellipse class="el" cx="1391.1" cy="910.5" rx="21" ry="16.5"/>
<ellipse class="el" cx="1324.3" cy="967.5" rx="21" ry="16.5"/>
<text class="red" x="1204" y="799">PDAT</text>
<text class="red" x="1517" y="811">FAD2</text>
<text class="red" x="1390" y="891">DGAT</text>
<text class="red" x="1325" y="945">FAD3</text>
</g>
</g>
</svg>
